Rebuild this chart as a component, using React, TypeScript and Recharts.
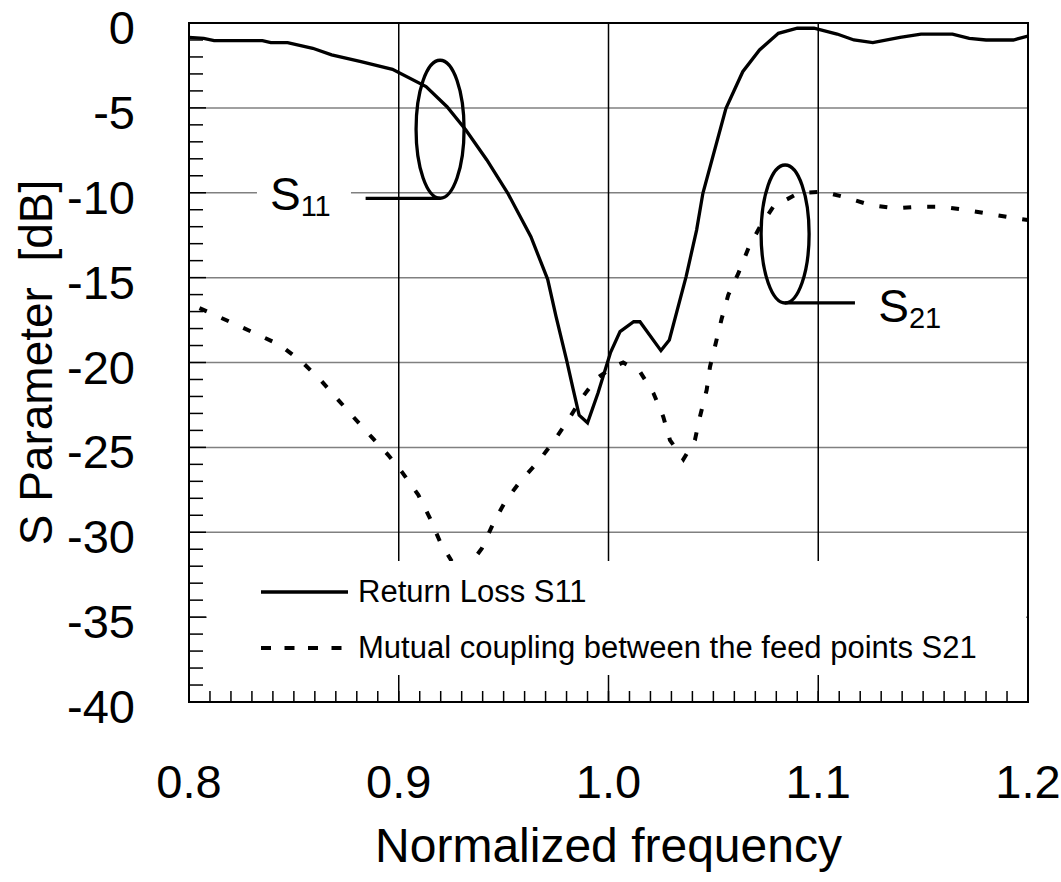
import React from 'react';
import {
  ComposedChart,
  Line,
  XAxis,
  YAxis,
  CartesianGrid,
  ReferenceArea,
  ReferenceDot,
  ReferenceLine,
  Legend,
} from 'recharts';

const FONT = '"Liberation Sans", Arial, Helvetica, sans-serif';

// Return loss S11 (solid)
const s11Freq = [
  0.8, 0.807, 0.812, 0.835, 0.839, 0.847, 0.859, 0.868, 0.882, 0.897, 0.913, 0.923,
  0.932, 0.942, 0.952, 0.963, 0.971, 0.975, 0.98, 0.983, 0.986, 0.99, 0.995, 1.001,
  1.0055, 1.012, 1.015, 1.025, 1.029, 1.037, 1.042, 1.045, 1.056, 1.064, 1.072, 1.081,
  1.09, 1.098, 1.109, 1.117, 1.126, 1.139, 1.149, 1.164, 1.172, 1.18, 1.193, 1.2,
];
const s11Db = [
  -0.85, -0.9, -1.04, -1.04, -1.16, -1.16, -1.49, -1.88, -2.28, -2.73, -3.75, -4.93,
  -6.3, -8.07, -10.03, -12.59, -15.1, -17.3, -19.85, -21.5, -23.1, -23.55, -21.8, -19.4,
  -18.18, -17.6, -17.6, -19.3, -18.67, -14.94, -12.2, -10.03, -5.03, -2.87, -1.59, -0.61,
  -0.31, -0.31, -0.65, -1.0, -1.16, -0.84, -0.65, -0.65, -0.9, -1.0, -1.0, -0.77,
];

// Mutual coupling S21 (dashed)
const s21Freq = [
  0.805, 0.8195, 0.8315, 0.8434, 0.8537, 0.8625, 0.8704, 0.8783, 0.8871, 0.895, 0.9014,
  0.9093, 0.9149, 0.9197, 0.9252, 0.931, 0.9396, 0.9451, 0.9507, 0.9578, 0.9665, 0.9737,
  0.9808, 0.9872, 0.9944, 1.0023, 1.007, 1.015, 1.0214, 1.0261, 1.0293, 1.0357, 1.0412,
  1.0436, 1.0468, 1.0484, 1.054, 1.0571, 1.0619, 1.0667, 1.0722, 1.0786, 1.0905, 1.1024,
  1.1136, 1.1247, 1.1366, 1.1477, 1.1589, 1.1708, 1.1819, 1.1938, 1.2,
];
const s21Db = [
  -16.8, -17.6, -18.28, -18.97, -19.95, -21.0, -22.1, -23.2, -24.4, -25.45, -26.43,
  -27.8, -29.18, -30.56, -31.7, -32.4, -30.95, -29.47, -28.2, -27.02, -25.84, -24.67,
  -23.39, -22.1, -20.93, -20.25, -20.0, -20.54, -21.8, -23.19, -24.57, -25.7, -24.57,
  -23.19, -21.62, -20.25, -17.4, -16.02, -14.75, -13.27, -12.0, -10.82, -10.03, -9.94,
  -10.29, -10.72, -10.92, -10.82, -10.82, -11.02, -11.25, -11.5, -11.6,
];

const xTicks = [0.8, 0.9, 1.0, 1.1, 1.2];
const yTicks = [0, -5, -10, -15, -20, -25, -30, -35, -40];
const xMinorTicks = [
  0.81, 0.82, 0.83, 0.84, 0.85, 0.86, 0.87, 0.88, 0.89, 0.9, 0.91, 0.92, 0.93, 0.94,
  0.95, 0.96, 0.97, 0.98, 0.99, 1.0, 1.01, 1.02, 1.03, 1.04, 1.05, 1.06, 1.07, 1.08,
  1.09, 1.1, 1.11, 1.12, 1.13, 1.14, 1.15, 1.16, 1.17, 1.18, 1.19,
];
const yMinorTicks = [
  -1, -2, -3, -4, -6, -7, -8, -9, -11, -12, -13, -14, -16, -17, -18, -19, -21, -22, -23,
  -24, -26, -27, -28, -29, -31, -32, -33, -34, -36, -37, -38, -39,
];
const yMajorInner = [-5, -10, -15, -20, -25, -30, -35];

const legendLabels = ['Return Loss S11', 'Mutual coupling between the feed points S21'];

const s11 = s11Freq.map((f, i) => ({ x: f, y: s11Db[i] }));
const s21 = s21Freq.map((f, i) => ({ x: f, y: s21Db[i] }));

const XTick = (props: any) => {
  const { x, y, payload } = props;
  return (
    <text x={x} y={y + 96} textAnchor="middle" fontSize={47} fontFamily={FONT} fill="#000">
      {Number(payload.value).toFixed(1)}
    </text>
  );
};

const YTick = (props: any) => {
  const { x, y, payload } = props;
  return (
    <text x={x - 54} y={y + 21} textAnchor="end" fontSize={47} fontFamily={FONT} fill="#000">
      {payload.value}
    </text>
  );
};

const NoTick = () => <g />;

const XTitle = (props: any) => {
  const { x, y, width } = props.viewBox;
  return (
    <text x={x + width / 2} y={y + 160} textAnchor="middle" fontSize={48} fontFamily={FONT} fill="#000">
      Normalized frequency
    </text>
  );
};

const YTitle = (props: any) => {
  const { y, height } = props.viewBox;
  return (
    <text
      transform={`translate(52, ${y + height / 2}) rotate(-90)`}
      textAnchor="middle"
      fontSize={46}
      fontFamily={FONT}
      fill="#000"
      style={{ whiteSpace: 'pre' }}
    >
      {'S Parameter  [dB]'}
    </text>
  );
};

// ellipse marker for the S11 / S21 callouts
const Ring = (props: any) => {
  const { cx, cy } = props;
  return <ellipse cx={cx} cy={cy} rx={24} ry={69} fill="none" stroke="#000" strokeWidth={3.3} />;
};

const SubLabel = (main: string, sub: string, bg: boolean) => (props: any) => {
  const { cx, cy } = props;
  return (
    <g>
      {bg && <rect x={cx - 13} y={cy - 40} width={94} height={48} fill="#fff" />}
      <text x={cx} y={cy} fontSize={46} fontFamily={FONT} fill="#000">
        {main}
        <tspan fontSize={29} dy={6}>{sub}</tspan>
      </text>
    </g>
  );
};

const LegendBox = () => (
  <svg width={819} height={114} style={{ display: 'block' }}>
    <line x1={54} y1={31} x2={141} y2={31} stroke="#000" strokeWidth={3.3} />
    <text x={151} y={41} fontSize={31} fontFamily={FONT} fill="#000">{legendLabels[0]}</text>
    <line x1={54} y1={87} x2={141} y2={87} stroke="#000" strokeWidth={4} strokeDasharray="10 13.5" />
    <text x={151} y={97} fontSize={31} fontFamily={FONT} fill="#000">{legendLabels[1]}</text>
  </svg>
);

export default function App() {
  return (
    <div style={{ position: 'absolute', left: 0, top: 0, background: '#fff' }}>
      <ComposedChart
        width={1061}
        height={882}
        margin={{ top: 23, right: 33, left: 0, bottom: 0 }}
        style={{ fontFamily: FONT }}
      >
        <CartesianGrid vertical={false} stroke="#808080" strokeWidth={1.5} />
        <CartesianGrid horizontal={false} stroke="#000" strokeWidth={1.5} />

        <XAxis
          dataKey="x"
          type="number"
          domain={[0.8, 1.2]}
          ticks={xTicks}
          allowDataOverflow
          height={180}
          tickLine={false}
          axisLine={false}
          tickSize={0}
          tickMargin={0}
          tick={<XTick />}
          label={<XTitle />}
        />
        <XAxis
          xAxisId="minor"
          dataKey="x"
          type="number"
          domain={[0.8, 1.2]}
          allowDataOverflow
          ticks={xMinorTicks}
          interval={0}
          mirror
          height={11}
          axisLine={false}
          tickSize={11}
          tickLine={{ stroke: '#000', strokeWidth: 1.5 }}
          tick={<NoTick />}
        />
        <YAxis
          type="number"
          domain={[-40, 0]}
          ticks={yTicks}
          allowDataOverflow
          width={189}
          tickLine={false}
          axisLine={false}
          tickSize={0}
          tickMargin={0}
          tick={<YTick />}
          label={<YTitle />}
        />
        <YAxis
          yAxisId="minor"
          type="number"
          domain={[-40, 0]}
          allowDataOverflow
          ticks={yMinorTicks}
          interval={0}
          mirror
          width={1}
          axisLine={false}
          tickSize={13}
          tickLine={{ stroke: '#000', strokeWidth: 1.5 }}
          tick={<NoTick />}
        />
        <YAxis
          yAxisId="major"
          type="number"
          domain={[-40, 0]}
          allowDataOverflow
          ticks={yMajorInner}
          interval={0}
          mirror
          width={1}
          axisLine={false}
          tickSize={17}
          tickLine={{ stroke: '#000', strokeWidth: 1.5 }}
          tick={<NoTick />}
        />

        <ReferenceArea x1={0.8} x2={1.2} y1={-40} y2={0} fill="none" stroke="#000" strokeWidth={2} ifOverflow="visible" />

        <Line
          data={s11}
          dataKey="y"
          type="linear"
          stroke="#000"
          strokeWidth={3.3}
          dot={false}
          activeDot={false}
          isAnimationActive={false}
          name="s11"
        />
        <Line
          data={s21}
          dataKey="y"
          type="linear"
          stroke="#000"
          strokeWidth={4}
          strokeDasharray="8 16"
          dot={false}
          activeDot={false}
          isAnimationActive={false}
          name="s21"
        />

        {/* S11 callout */}
        <ReferenceDot x={0.9197} y={-6.26} r={1} shape={<Ring />} ifOverflow="visible" />
        <ReferenceLine
          segment={[{ x: 0.8842, y: -10.33 }, { x: 0.9197, y: -10.33 }]}
          stroke="#000"
          strokeWidth={3.3}
        />
        <ReferenceDot x={0.8386} y={-10.99} r={1} shape={SubLabel('S', '11', true)} ifOverflow="visible" />

        {/* S21 callout */}
        <ReferenceDot x={1.0842} y={-12.43} r={1} shape={<Ring />} ifOverflow="visible" />
        <ReferenceLine
          segment={[{ x: 1.0842, y: -16.49 }, { x: 1.1175, y: -16.49 }]}
          stroke="#000"
          strokeWidth={3.3}
        />
        <ReferenceDot x={1.1286} y={-17.61} r={1} shape={SubLabel('S', '21', false)} ifOverflow="visible" />

        <Legend
          layout="horizontal"
          verticalAlign="middle"
          align="center"
          content={<LegendBox />}
          wrapperStyle={{
            position: 'absolute',
            left: 207,
            top: 561,
            right: 'auto',
            bottom: 'auto',
            width: 819,
            height: 114,
            background: '#fff',
            margin: 0,
            padding: 0,
          }}
        />
      </ComposedChart>
    </div>
  );
}
